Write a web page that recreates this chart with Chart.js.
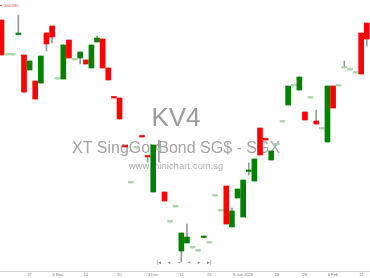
<!DOCTYPE html>
<html><head><meta charset="utf-8">
<script src="https://cdn.jsdelivr.net/npm/chart.js@4/dist/chart.umd.min.js"></script>
<style>html,body{margin:0;padding:0;background:#fff;overflow:hidden}canvas{display:block}</style>
</head><body>
<canvas id="c" width="370" height="278"></canvas>
<script>
// OHLC per trading session (index = session number)
const opens  = [166.23,165.88,165.88,166.085,165.88,165.73,165.62,165.60,166.10,166.17,165.64,165.64,166.03,165.83,165.85,165.83,165.75,166.01,166.04,165.75,165.455,165.45,164.965,164.60,164.95,165.065,164.865,164.51,164.93,164.51,164.21,164.36,163.92,164.00,163.95,163.92,164.055,164.00,164.47,164.32,164.57,164.16,164.45,164.26,164.715,164.62,165.15,165.035,164.83,164.98,165.21,165.38,165.57,165.53,165.31,165.45,165.22,165.14,165.01,165.57,165.57,165.75,165.73,165.70,166.10,166.20];
const highs  = [166.23,165.88,165.88,166.28,165.88,165.82,165.62,165.87,166.10,166.17,165.64,165.98,166.03,165.83,165.91,165.83,165.98,166.07,166.04,165.75,165.455,165.45,164.965,164.60,164.95,165.065,164.865,164.98,165.03,164.51,164.21,164.36,164.10,164.19,163.95,163.92,164.06,164.00,164.47,164.32,164.57,164.35,164.54,164.63,164.80,164.84,165.15,165.035,164.92,164.98,165.21,165.57,165.57,165.66,165.31,165.45,165.33,165.14,165.57,165.57,165.57,165.82,165.73,165.70,166.10,166.20];
const lows   = [165.88,165.88,165.88,166.085,165.50,165.73,165.44,165.60,165.92,166.00,165.64,165.64,165.85,165.83,165.79,165.79,165.75,166.01,165.75,165.63,165.45,165.24,164.96,164.60,164.95,165.06,164.81,164.51,164.81,164.42,164.21,164.36,163.81,164.00,163.95,163.92,164.055,164.00,164.47,164.32,164.19,164.16,164.45,164.26,164.68,164.62,164.88,165.03,164.83,164.98,165.21,165.38,165.57,165.53,165.23,165.45,165.19,165.14,165.01,165.35,165.57,165.75,165.73,165.70,165.69,165.97];
const closes = [165.88,165.88,165.88,166.09,165.51,165.82,165.44,165.87,165.99,166.06,165.64,165.98,165.85,165.83,165.91,165.79,165.98,166.05,165.75,165.63,165.45,165.24,164.96,164.60,164.95,165.06,164.86,164.98,164.93,164.42,164.21,164.36,164.10,164.06,163.95,163.92,164.06,164.00,164.47,164.32,164.19,164.32,164.54,164.63,164.72,164.84,164.88,165.03,164.92,164.98,165.21,165.57,165.57,165.66,165.23,165.45,165.19,165.14,165.57,165.35,165.57,165.75,165.73,165.70,165.69,166.04];
const tickIndex  = [5,10,15,21,27,32,37,43,49,54,59,64];
const tickLabels = ['27','6 Nov','14','20','3 Dec','11','26','8 Jan 2026','19','29','6 Feb','13'];
const highLabel = '166.280';
const stockCode = 'KV4';
const stockName = 'XT SingGovBond SG$ - SGX';
const siteName = 'www.minichart.com.sg';

const UP = '#008000', DOWN = '#ff0000', FLAT = '#a8d4a8', WICK = '#9a9a9a';
const bodyData = opens.map((o, i) => ({x: i, y: [o, closes[i]]}));
const wickData = opens.map((o, i) => ({x: i, y: [lows[i], highs[i]]}));
const bodyColors = opens.map((o, i) => closes[i] > o ? UP : (closes[i] < o ? DOWN : FLAT));

const overlay = {
  id: 'overlay',
  beforeDatasetsDraw(chart) {
    const ctx = chart.ctx;
    ctx.save();
    ctx.textAlign = 'center';
    ctx.textBaseline = 'alphabetic';
    ctx.fillStyle = '#9c9c9c';
    ctx.font = '26px "Liberation Sans", Arial, sans-serif';
    ctx.fillText(stockCode, 176, 126);
    ctx.fillStyle = '#a4a4a4';
    ctx.font = '16px "Liberation Sans", Arial, sans-serif';
    ctx.fillText(stockName, 176, 153);
    ctx.fillStyle = '#b0b0b0';
    ctx.font = '9.5px "Liberation Sans", Arial, sans-serif';
    ctx.fillText(siteName, 176, 169);
    ctx.restore();
  },
  afterDraw(chart) {
    const ctx = chart.ctx;
    ctx.save();
    ctx.fillStyle = '#ff5050';
    ctx.fillRect(0, 5, 2, 1);
    ctx.font = '4px "Liberation Sans", Arial, sans-serif';
    ctx.textBaseline = 'middle';
    ctx.textAlign = 'left';
    ctx.fillText(highLabel, 4, 5.5);
    ctx.fillStyle = '#777';
    ctx.textAlign = 'center';
    ctx.font = '5px "DejaVu Sans", sans-serif';
    const icons = ['|\u25C2', '\u25C2', '\u2212', '+', '\u25B8', '\u25B8|'];
    icons.forEach((t, k) => ctx.fillText(t, 159 + k * 10, 263));
    ctx.restore();
  }
};

new Chart(document.getElementById('c'), {
  type: 'bar',
  data: {
    datasets: [
      {data: bodyData, backgroundColor: bodyColors, barThickness: 5, minBarLength: 1.5, grouped: false, borderWidth: 0},
      {data: wickData, backgroundColor: WICK, barThickness: 1, grouped: false, borderWidth: 0}
    ]
  },
  options: {
    responsive: false,
    animation: false,
    layout: {padding: 0},
    plugins: {legend: {display: false}, tooltip: {enabled: false}},
    scales: {
      x: {
        type: 'linear',
        min: -0.267, max: 65.57,
        offset: false,
        grid: {display: true, drawOnChartArea: false, drawTicks: false, tickLength: 0},
        border: {display: true, color: '#d0d0d0', width: 1},
        afterBuildTicks: s => { s.ticks = tickIndex.map(v => ({value: v})); },
        afterFit: s => { s.height = 7; },
        ticks: {
          autoSkip: false, maxRotation: 0, padding: 1,
          color: '#777', font: {size: 4, family: '"Liberation Sans", Arial, sans-serif'},
          callback: v => { const k = tickIndex.indexOf(v); return k >= 0 ? tickLabels[k] : ''; }
        }
      },
      y: {display: false, min: 163.72, max: 166.43}
    }
  },
  plugins: [overlay]
});
</script>
</body></html>
